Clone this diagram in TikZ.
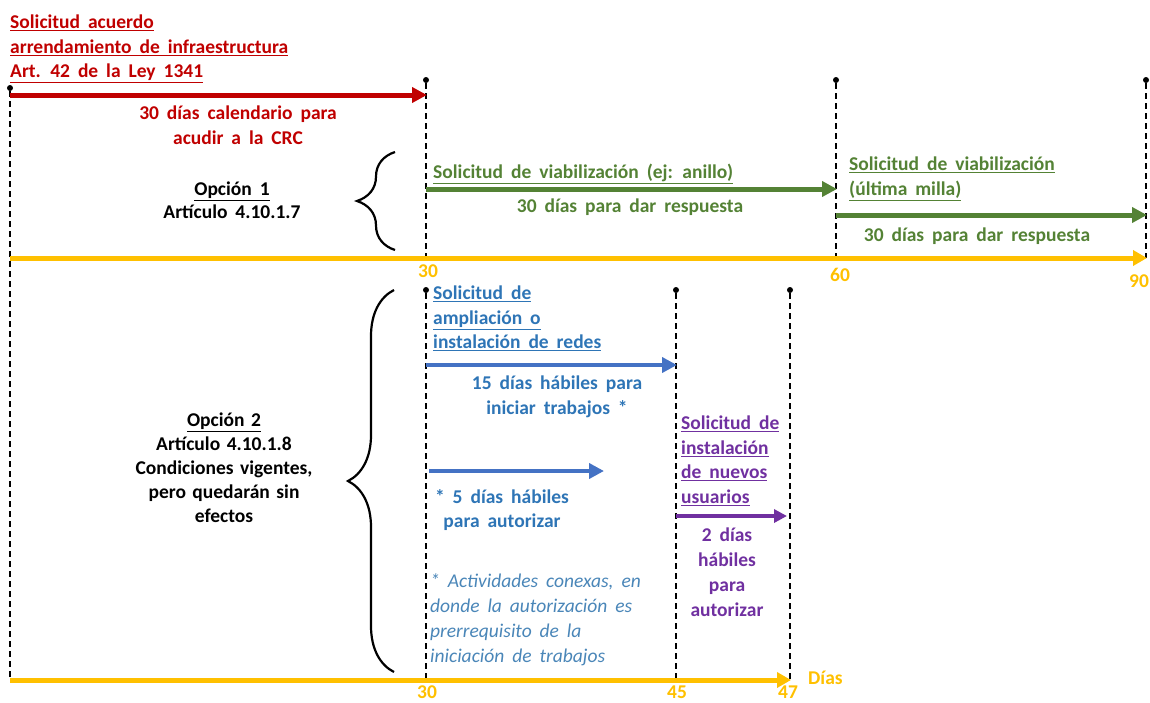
\documentclass[tikz,border=0pt]{standalone}
\usepackage{fontspec}
\setmainfont{Carlito}[WordSpace=1.8]
\usetikzlibrary{calc,arrows.meta,decorations.pathreplacing,positioning}
\definecolor{crcred}{HTML}{C00000}
\definecolor{viagreen}{HTML}{548235}
\definecolor{redblue}{HTML}{4472C4}
\definecolor{bluetext}{HTML}{2E75B6}
\definecolor{notetext}{HTML}{4A86B8}
\definecolor{userpurple}{HTML}{7030A0}
\definecolor{axisyellow}{HTML}{FFC000}

\begin{document}
\begin{tikzpicture}[x=1pt,y=-1pt,font=\fontsize{19.5}{24.5}\selectfont\bfseries]

\tikzset{lbl/.style={inner sep=0pt,anchor=north west,align=left},
clbl/.style={inner sep=0pt,anchor=north,align=center},
guide/.style={black,line width=1.3pt,dash pattern=on 6pt off 4pt},
tick/.style={circle,fill=black,inner sep=0pt,minimum size=6pt},
period/.style={line width=5pt,-{Triangle[length=15pt,width=15pt]}},
axis/.style={axisyellow,line width=5pt,-{Triangle[length=14pt,width=15pt]}},
daynum/.style={axisyellow,inner sep=0pt,anchor=base},
optbrace/.style={decorate,decoration={brace,amplitude=38pt},line width=2.2pt}}

\useasboundingbox (0,0) rectangle (1150,702);

% Guide points (top of each dashed line)
\node[tick] (g0) at (10,88) {};
\node[tick] (g30) at (426,80) {};
\node[tick] (g60) at (836,80) {};
\node[tick] (g90) at (1146,80) {};
\node[tick] (h30) at (426,290) {};
\node[tick] (h45) at (676,290) {};
\node[tick] (h47) at (790,290) {};
\coordinate (g0b) at (10,680);
\coordinate (g30b) at (426,258);
\coordinate (g60b) at (836,258);
\coordinate (g90b) at (1146,258);
\coordinate (h30b) at (426,680);
\coordinate (h45b) at (676,680);
\coordinate (h47b) at (790,680);

% Dashed lines
\draw[guide] (g0) -- (g0b); \draw[guide] (g30) -- (g30b); \draw[guide] (g60) -- (g60b); \draw[guide] (g90) -- (g90b);
\draw[guide] (h30) -- (h30b); \draw[guide] (h45) -- (h45b); \draw[guide] (h47) -- (h47b);

% Axes
\coordinate (ax1s) at (10,258); \coordinate (ax1e) at (1147,258);
\coordinate (ax2s) at (10,680); \coordinate (ax2e) at (791,680);
\draw[axis] (ax1s) -- (ax1e);
\draw[axis] (ax2s) -- (ax2e);
\node[daynum] (n30) at (428,277) {30};
\node[daynum] (n60) at (840,281) {60};
\node[daynum] (n90) at (1139,287) {90};
\node[daynum] (m30) at (427,698) {30};
\node[daynum] (m45) at (677,698) {45};
\node[daynum] (m47) at (788,698) {47};
\node[daynum,anchor=base west] (dias) at (808,684) {Días};

% Periods
\coordinate (r0) at (10,95); \coordinate (r30) at (427,95);
\coordinate (v30) at (426,189); \coordinate (v60) at (837,189);
\coordinate (w60) at (836,215); \coordinate (w90) at (1147,215);
\coordinate (a30) at (426,365); \coordinate (a45) at (677,365);
\coordinate (b30) at (429,471); \coordinate (b35) at (604,471);
\coordinate (u45) at (676,516); \coordinate (u47) at (787,516);
\draw[period,crcred] (r0) -- (r30);
\draw[period,viagreen] (v30) -- (v60);
\draw[period,viagreen] (w60) -- (w90);
\draw[period,redblue,line width=4.5pt] (a30) -- (a45);
\draw[period,redblue,line width=4.5pt] (b30) -- (b35);
\draw[period,userpurple,line width=4pt,-{Triangle[length=13pt,width=13pt]}] (u45) -- (u47);

% Braces
\coordinate (br1s) at (395,250); \coordinate (br1e) at (395,152);
\coordinate (br2s) at (394,672); \coordinate (br2e) at (394,290);
\draw[optbrace] (br1s) -- (br1e);
\draw[optbrace,decoration={amplitude=46pt}] (br2s) -- (br2e);

% Texts
\node[lbl,crcred] (req) at (10,15) {\underline{Solicitud acuerdo}\\\underline{arrendamiento de infraestructura}\\\underline{Art. 42 de la Ley 1341}};
\node[clbl,crcred] (crc) at (238,106) {30 días calendario para\\acudir a la CRC};
\node[clbl,font=\fontsize{19.5}{22.5}\selectfont\bfseries] (opt1) at (232,182) {\underline{Opción 1}\\Artículo 4.10.1.7};
\node[clbl,text width=300pt,font=\fontsize{19.5}{24}\selectfont\bfseries] (opt2) at (224,413) {\underline{Opción 2}\\Artículo 4.10.1.8\\Condiciones vigentes,\\pero quedarán sin\\efectos};
\node[lbl,viagreen] (via1) at (433,164) {\underline{Solicitud de viabilización (ej: anillo)}};
\node[clbl,viagreen] (resp1) at (630,199) {30 días para dar respuesta};
\node[lbl,viagreen] (via2) at (849,157) {\underline{Solicitud de viabilización}\\\underline{(última milla)}};
\node[clbl,viagreen] (resp2) at (977,228) {30 días para dar respuesta};
\node[lbl,bluetext] (amp) at (433,286) {\underline{Solicitud de}\\\underline{ampliación o}\\\underline{instalación de redes}};
\node[clbl,bluetext] (ini) at (557,376) {15 días hábiles para\\iniciar trabajos *};
\node[clbl,bluetext] (aut) at (502,489) {* 5 días hábiles\\para autorizar};
\node[lbl,notetext,font=\fontsize{19.5}{25}\selectfont\itshape] (note) at (430,573) {* Actividades conexas, en\\donde la autorización es\\prerrequisito de la\\iniciación de trabajos};
\node[lbl,userpurple] (usr) at (681,416) {\underline{Solicitud de}\\\underline{instalación}\\\underline{de nuevos}\\\underline{usuarios}};
\node[clbl,userpurple,font=\fontsize{19.5}{25}\selectfont\bfseries] (usraut) at (727,528) {2 días\\hábiles\\para\\autorizar};

\end{tikzpicture}
\end{document}
